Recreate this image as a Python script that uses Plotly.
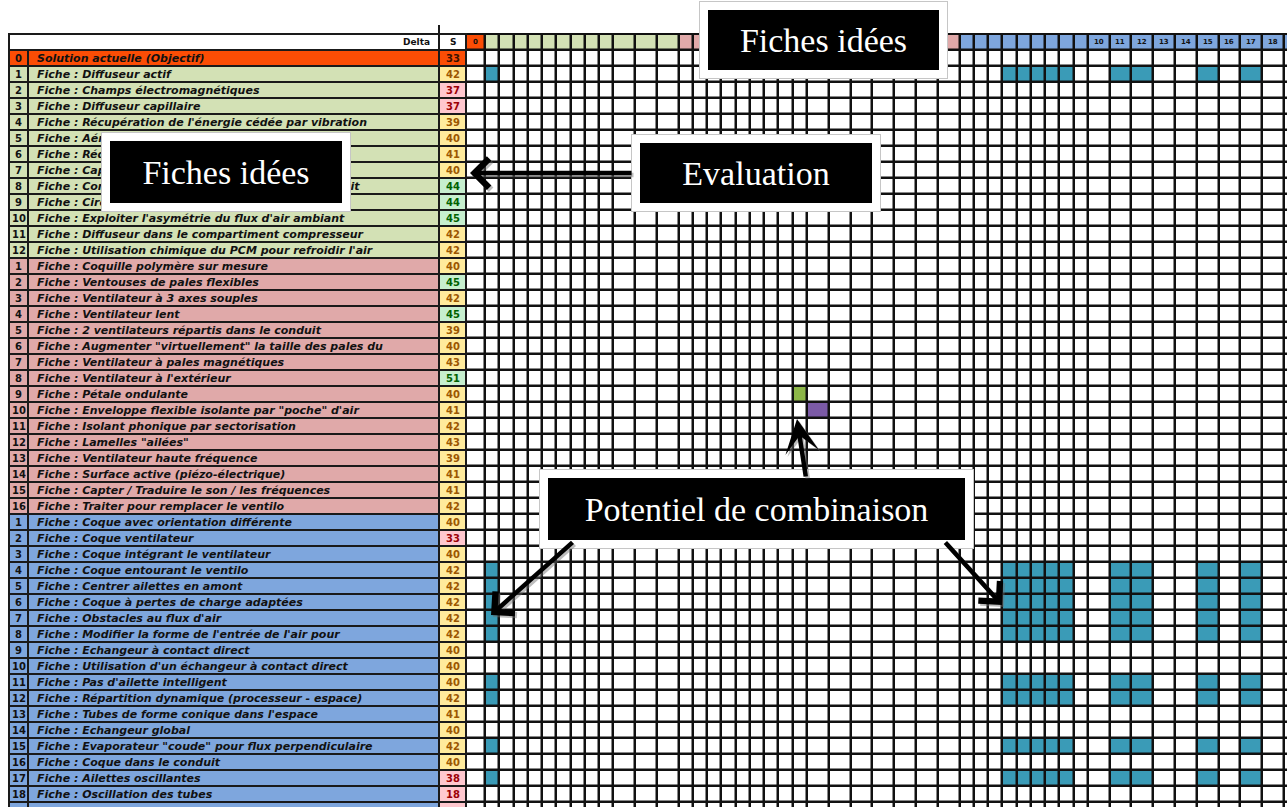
import plotly.graph_objects as go

# ---------------- data ----------------
idees_objectif = ["Solution actuelle (Objectif)"]
idees_vert = [
    "Fiche : Diffuseur actif",
    "Fiche : Champs électromagnétiques",
    "Fiche : Diffuseur capillaire",
    "Fiche : Récupération de l'énergie cédée par vibration",
    "Fiche : Aération du boîtier",
    "Fiche : Réduction de la vitesse",
    "Fiche : Capot acoustique",
    "Fiche : Contre-onde annulant le niveau réel de bruit",
    "Fiche : Circulation d'air optimisée",
    "Fiche : Exploiter l'asymétrie du flux d'air ambiant",
    "Fiche : Diffuseur dans le compartiment compresseur",
    "Fiche : Utilisation chimique du PCM pour refroidir l'air",
]
idees_rose = [
    "Fiche : Coquille polymère sur mesure",
    "Fiche : Ventouses de pales flexibles",
    "Fiche : Ventilateur à 3 axes souples",
    "Fiche : Ventilateur lent",
    "Fiche : 2 ventilateurs répartis dans le conduit",
    "Fiche : Augmenter \"virtuellement\" la taille des pales du",
    "Fiche : Ventilateur à pales magnétiques",
    "Fiche : Ventilateur à l'extérieur",
    "Fiche : Pétale ondulante",
    "Fiche : Enveloppe flexible isolante par \"poche\" d'air",
    "Fiche : Isolant phonique par sectorisation",
    "Fiche : Lamelles \"ailées\"",
    "Fiche : Ventilateur haute fréquence",
    "Fiche : Surface active (piézo-électrique)",
    "Fiche : Capter / Traduire le son / les fréquences",
    "Fiche : Traiter pour remplacer le ventilo",
]
idees_bleu = [
    "Fiche : Coque avec orientation différente",
    "Fiche : Coque ventilateur",
    "Fiche : Coque intégrant le ventilateur",
    "Fiche : Coque entourant le ventilo",
    "Fiche : Centrer ailettes en amont",
    "Fiche : Coque à pertes de charge adaptées",
    "Fiche : Obstacles au flux d'air",
    "Fiche : Modifier la forme de l'entrée de l'air pour",
    "Fiche : Echangeur à contact direct",
    "Fiche : Utilisation d'un échangeur à contact direct",
    "Fiche : Pas d'ailette intelligent",
    "Fiche : Répartition dynamique (processeur - espace)",
    "Fiche : Tubes de forme conique dans l'espace",
    "Fiche : Echangeur global",
    "Fiche : Evaporateur \"coude\" pour flux perpendiculaire",
    "Fiche : Coque dans le conduit",
    "Fiche : Ailettes oscillantes",
    "Fiche : Oscillation des tubes",
    "Fiche : Ailettes flexibles",
]
notes_objectif = [33]
notes_vert = [42, 37, 37, 39, 40, 41, 40, 44, 44, 45, 42, 42]
notes_rose = [40, 45, 42, 45, 39, 40, 43, 51, 40, 41, 42, 43, 39, 41, 41, 42]
notes_bleu = [40, 33, 40, 42, 42, 42, 42, 42, 40, 40, 40, 42, 41, 40, 42, 40, 38, 18, 35]

# ideas that can be combined with one another (teal cells)
combinables = [("vert", 1), ("bleu", 4), ("bleu", 5), ("bleu", 6), ("bleu", 7),
               ("bleu", 8), ("bleu", 11), ("bleu", 12), ("bleu", 15), ("bleu", 17)]
# highlighted diagonal cells
cases_speciales = [("rose", 9, "vert_fonce"), ("rose", 10, "violet")]

entete_label = "Delta"
entete_note = "S"
callout_textes = ["Fiches idées", "Fiches idées", "Evaluation", "Potentiel de combinaison"]

# ---------------- styles / geometry ----------------
W, H = 1287, 807
ROW0, PITCH = 58.0, 16.0


def ry(py):
    return (py - ROW0) / PITCH


X_LEFT, X_NUM, X_LAB, X_SCORE = 9, 28, 439, 466
W_COL0, W_NARROW, W_WIDE = 19, 14.25, 21.8

ROW_COL = {"objectif": "#FB4D05", "vert": "#D3E1B5", "rose": "#E0A9A9", "bleu": "#7EA6DD"}
CODE_HEAD = {"objectif": 4, "vert": 5, "rose": 6, "bleu": 7}
CODE_SPEC = {"vert_fonce": 2, "violet": 3}
PALETTE = ["#FFFFFF", "#3A9BB7", "#8CB648", "#7B5AA6",
           ROW_COL["objectif"], ROW_COL["vert"], ROW_COL["rose"], ROW_COL["bleu"]]


def note_style(v, g):
    if g == "objectif":
        return ROW_COL["objectif"], "#3A1200"
    if v <= 38:
        return "#FFC7CE", "#9C0006"
    if v <= 43:
        return "#FFEB9C", "#9C5700"
    return "#C6EFCE", "#006100"


ideas = []
for g, labs, notes in [("objectif", idees_objectif, notes_objectif),
                       ("vert", idees_vert, notes_vert),
                       ("rose", idees_rose, notes_rose),
                       ("bleu", idees_bleu, notes_bleu)]:
    for i, (lab, nv) in enumerate(zip(labs, notes)):
        num = i if g == "objectif" else i + 1
        ideas.append(dict(g=g, num=num, lab=lab, note=nv))
N = len(ideas)
index = {(d["g"], d["num"]): k for k, d in enumerate(ideas)}

# column edges of the matrix
edges = [X_SCORE]
for k, d in enumerate(ideas):
    w = W_COL0 if k == 0 else (W_NARROW if d["num"] < 10 else W_WIDE)
    edges.append(edges[-1] + w)

# matrix codes: row 0 = header, rows 1.. = ideas
z = [[CODE_HEAD[d["g"]] for d in ideas]]
comb_idx = [index[c] for c in combinables]
for r in range(N):
    row = [0] * N
    if r in comb_idx:
        for c in comb_idx:
            row[c] = 1
    z.append(row)
for g, num, kind in cases_speciales:
    k = index[(g, num)]
    z[k + 1][k] = CODE_SPEC[kind]

ncode = len(PALETTE)
colorscale = []
for i, col in enumerate(PALETTE):
    colorscale.append([i / ncode, col])
    colorscale.append([(i + 1) / ncode, col])

y_edges = [-1.5 + j for j in range(N + 2)]

fig = go.Figure()
fig.add_trace(go.Heatmap(
    z=z, x=edges, y=y_edges, colorscale=colorscale, zmin=-0.5, zmax=ncode - 0.5,
    showscale=False, xgap=2.5, ygap=2.5, hoverinfo="skip"))

shapes = []
annotations = []
# black backdrop for the matrix grid lines
shapes.append(dict(type="rect", xref="x", yref="y", x0=X_SCORE - 1, x1=edges[-1] + 1,
                   y0=-1.5 - 0.07, y1=N - 0.5 + 0.07, fillcolor="#111111",
                   line=dict(width=0), layer="below"))

LINE = dict(color="#1a1a1a", width=2)
# header row of the left table
shapes.append(dict(type="rect", x0=X_LEFT, x1=X_LAB, y0=-1.5, y1=-0.5,
                   fillcolor="white", line=LINE))
shapes.append(dict(type="rect", x0=X_LAB, x1=X_SCORE, y0=-1.5, y1=-0.5,
                   fillcolor="white", line=LINE))
shapes.append(dict(type="line", x0=X_LAB, x1=X_LAB, y0=ry(25), y1=-1.5, line=LINE))
annotations.append(dict(x=X_LAB - 7, y=-1, text="<b>" + entete_label + "</b>", xanchor="right",
                        showarrow=False, font=dict(family="DejaVu Sans", size=9, color="#111")))
annotations.append(dict(x=(X_LAB + X_SCORE) / 2, y=-1, text="<b>" + entete_note + "</b>",
                        showarrow=False, font=dict(family="DejaVu Sans", size=9, color="#111")))

for r, d in enumerate(ideas):
    col = ROW_COL[d["g"]]
    bg, fg = note_style(d["note"], d["g"])
    shapes.append(dict(type="rect", x0=X_LEFT, x1=X_NUM, y0=r - 0.5, y1=r + 0.5,
                       fillcolor=col, line=LINE))
    shapes.append(dict(type="rect", x0=X_NUM, x1=X_LAB, y0=r - 0.5, y1=r + 0.5,
                       fillcolor=col, line=LINE))
    shapes.append(dict(type="rect", x0=X_LAB, x1=X_SCORE, y0=r - 0.5, y1=r + 0.5,
                       fillcolor=bg, line=LINE))
    annotations.append(dict(x=(X_LEFT + X_NUM) / 2, y=r, text="<b>%d</b>" % d["num"],
                            showarrow=False, font=dict(family="DejaVu Sans", size=10, color="#111")))
    annotations.append(dict(x=X_NUM + 7, y=r, text="<b><i>" + d["lab"] + "</i></b>",
                            xanchor="left", showarrow=False,
                            font=dict(family="DejaVu Sans", size=11, color="#111")))
    annotations.append(dict(x=(X_LAB + X_SCORE) / 2, y=r, text="<b>%d</b>" % d["note"],
                            showarrow=False, font=dict(family="DejaVu Sans", size=10, color=fg)))

# call-out boxes (black inner box, white frame)
BOXES = [(708, 939, 10, 70), (110, 342, 141, 203), (640, 872, 143, 203), (548, 965, 478, 540)]
PAD = 8

# column numbers in the matrix header (only those the sheet shows, not hidden by a call-out)
for k, d in enumerate(ideas):
    xc = (edges[k] + edges[k + 1]) / 2
    hidden = any(x0 - PAD - 8 <= xc <= x1 + PAD + 8 and y1 + PAD >= 40 for x0, x1, y0, y1 in BOXES)
    if (k == 0 or d["num"] >= 10) and not hidden:
        annotations.append(dict(x=xc, y=-1, text="<b>%d</b>" % d["num"],
                                showarrow=False,
                                font=dict(family="DejaVu Sans", size=7, color="#111")))

for (x0, x1, y0, y1), txt in zip(BOXES, callout_textes):
    cx, cy = (x0 + x1) / 2, ry((y0 + y1) / 2)
    annotations.append(dict(x=cx, y=cy, text=" ", showarrow=False,
                            width=x1 - x0 + 2 * PAD + 2, height=y1 - y0 + 2 * PAD + 2,
                            bgcolor="#c6c6c6", borderwidth=0, borderpad=0,
                            font=dict(size=4)))
    annotations.append(dict(x=cx, y=cy, text=txt, showarrow=False,
                            width=x1 - x0, height=y1 - y0, align="center", valign="middle",
                            bgcolor="black", bordercolor="white", borderwidth=PAD, borderpad=0,
                            font=dict(family="Liberation Serif", size=34, color="white")))

# arrows: (tail px, head px, head style)
ARROWS = [((633, 173), (470, 173), 4),
          ((806, 478), (797, 419), 3),
          ((574, 541), (491, 615), 4),
          ((944, 541), (1002, 605), 4)]
for shade, colr in [(2, "rgba(110,110,110,0.45)"), (0, "black")]:
    for (tx, ty), (hx, hy), hd in ARROWS:
        annotations.append(dict(x=hx + shade, y=ry(hy + shade), ax=tx + shade, ay=ry(ty + shade),
                                xref="x", yref="y", axref="x", ayref="y", text="",
                                showarrow=True, arrowhead=hd, arrowsize=1.25, arrowwidth=4.5,
                                arrowcolor=colr, standoff=0))

for s in shapes:
    s.setdefault("xref", "x")
    s.setdefault("yref", "y")

fig.update_layout(
    width=W, height=H, margin=dict(l=0, r=0, t=0, b=0),
    paper_bgcolor="white", plot_bgcolor="white", showlegend=False,
    xaxis=dict(range=[0, W], visible=False, fixedrange=True),
    yaxis=dict(range=[ry(H), ry(0)], visible=False, fixedrange=True),
    shapes=shapes, annotations=annotations,
)
fig.write_html("out.html", config={"staticPlot": True},
               post_script="document.body.style.margin='0';document.body.style.overflow='hidden';")
